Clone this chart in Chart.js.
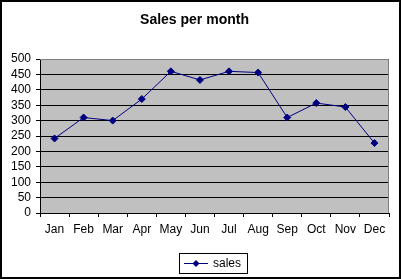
<!DOCTYPE html>
<html><head><meta charset="utf-8">
<script src="https://cdn.jsdelivr.net/npm/chart.js@4"></script>
<style>html,body{margin:0;padding:0;background:#fff}#wrap{width:401px;height:279px;position:relative}</style>
</head><body><div id="wrap"><canvas id="c" width="401" height="279"></canvas></div>
<script>
const months = ['Jan','Feb','Mar','Apr','May','Jun','Jul','Aug','Sep','Oct','Nov','Dec'];
const sales = [242, 310, 300, 370, 460, 432, 460, 456, 310, 357, 344, 227];
const seriesName = 'sales';
const chartTitle = 'Sales per month';

const NAVY = '#000080';
const FONT = "'Liberation Sans', Arial, sans-serif";

function diamond(ctx, x, y, r){
  ctx.beginPath(); ctx.moveTo(x, y-r); ctx.lineTo(x+r, y); ctx.lineTo(x, y+r); ctx.lineTo(x-r, y); ctx.closePath(); ctx.fill();
}

const decor = {
  id: 'decor',
  beforeDraw(chart){
    const {ctx, chartArea: a} = chart;
    ctx.save();
    ctx.fillStyle = '#fff'; ctx.fillRect(0,0,chart.width,chart.height);
    ctx.fillStyle = '#C0C0C0';
    ctx.fillRect(a.left, a.top, a.right-a.left, a.bottom-a.top);
    ctx.restore();
  },
  afterDraw(chart){
    const {ctx, chartArea: a} = chart;
    ctx.save();
    // plot area top/right border
    ctx.strokeStyle = '#808080'; ctx.lineWidth = 1;
    ctx.beginPath();
    ctx.moveTo(a.left, a.top+0.5); ctx.lineTo(a.right-0.5, a.top+0.5); ctx.lineTo(a.right-0.5, a.bottom);
    ctx.stroke();
    // legend (box, marker, label)
    const ds = chart.data.datasets[0];
    ctx.strokeStyle = '#000'; ctx.lineWidth = 1;
    ctx.strokeRect(179.5, 253.5, 68, 20);
    ctx.strokeStyle = ds.borderColor; ctx.beginPath(); ctx.moveTo(184, 263.5); ctx.lineTo(208, 263.5); ctx.stroke();
    ctx.fillStyle = ds.borderColor; diamond(ctx, 196, 263.5, 3.5);
    ctx.fillStyle = '#000'; ctx.font = '12px ' + FONT; ctx.textBaseline = 'middle'; ctx.textAlign = 'left';
    ctx.fillText(ds.label, 213, 263.5);
    // outer frame
    ctx.strokeStyle = '#000'; ctx.lineWidth = 2;
    ctx.strokeRect(1, 1, chart.width-2, chart.height-2);
    ctx.restore();
  }
};

new Chart(document.getElementById('c'), {
  type: 'line',
  data: { labels: months, datasets: [{
    label: seriesName, data: sales,
    borderColor: NAVY, backgroundColor: NAVY, borderWidth: 1,
    pointStyle: 'rectRot', pointRadius: 3.5, pointBackgroundColor: NAVY, pointBorderColor: NAVY,
    tension: 0
  }]},
  options: {
    responsive: false, animation: false, devicePixelRatio: 1,
    layout: { padding: { left: 0, right: 12, top: 0, bottom: 38 } },
    plugins: {
      title: { display: true, text: chartTitle, color: '#000',
        font: { family: FONT, size: 14, weight: 'bold', lineHeight: 1.2 },
        padding: { top: 11.6, bottom: 30.6 } },
      legend: { display: false },
      tooltip: { enabled: false }
    },
    scales: {
      x: { offset: true,
        grid: { offset: true, drawOnChartArea: false, drawTicks: true, tickLength: 4, color: '#000' },
        border: { color: '#000' },
        ticks: { color: '#000', font: { family: FONT, size: 12 }, padding: 5, maxRotation: 0, autoSkip: false },
        afterFit(s){ s.height = 28; } },
      y: { min: 0, max: 500,
        grid: { color: '#000', tickLength: 4, drawTicks: true },
        border: { color: '#000' },
        ticks: { stepSize: 50, autoSkip: false, color: '#000', font: { family: FONT, size: 12 }, padding: 5 },
        afterFit(s){ s.width = 40; } }
    }
  },
  plugins: [decor]
});
</script></body></html>
